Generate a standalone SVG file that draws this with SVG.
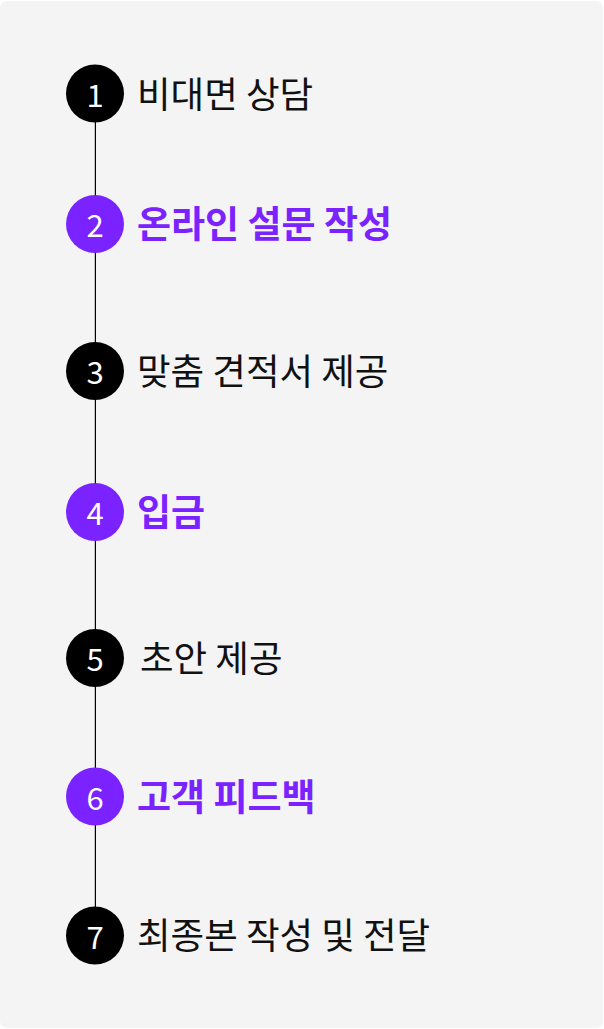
<svg xmlns="http://www.w3.org/2000/svg" width="604" height="1029" viewBox="0 0 604 1029">
<style>
.bg{fill:#f4f4f4}
.dot-k{fill:#000}
.dot-p{fill:#7a22ff}
.num{fill:#fff;font-family:"Noto Sans CJK KR","Noto Sans",sans-serif;font-size:31px;font-weight:400;text-anchor:middle;dominant-baseline:central}
.lab{font-family:"Noto Sans CJK KR","Noto Sans",sans-serif;dominant-baseline:central}
.lab-k{fill:#111;font-weight:400;font-size:36.5px}
.lab-p{fill:#7a22ff;font-weight:700;font-size:37px}
.conn{stroke:#000;stroke-width:1.2;fill:none}
</style>
<rect class="bg" x="0" y="1" width="603" height="1027" rx="7"/>
<g id="connectors">
<line class="conn" x1="95.4" y1="120" x2="95.4" y2="910"/>
</g>
<g id="step1"><circle class="dot-k" cx="95" cy="93.5" r="29"/><text class="num" x="95" y="93">1</text><text class="lab lab-k" x="137" y="92">비대면 상담</text></g>
<g id="step2"><circle class="dot-p" cx="95" cy="224" r="29"/><text class="num" x="95" y="223.5">2</text><text class="lab lab-p" x="137" y="222">온라인 설문 작성</text></g>
<g id="step3"><circle class="dot-k" cx="95" cy="371" r="29"/><text class="num" x="95" y="370.5">3</text><text class="lab lab-k" x="137" y="369">맞춤 견적서 제공</text></g>
<g id="step4"><circle class="dot-p" cx="95" cy="512" r="29"/><text class="num" x="95" y="511.5">4</text><text class="lab lab-p" x="137" y="510">입금</text></g>
<g id="step5"><circle class="dot-k" cx="95" cy="658" r="29"/><text class="num" x="95" y="657.5">5</text><text class="lab lab-k" x="140" y="656">초안 제공</text></g>
<g id="step6"><circle class="dot-p" cx="95" cy="796.5" r="29"/><text class="num" x="95" y="796">6</text><text class="lab lab-p" x="137" y="794.5">고객 피드백</text></g>
<g id="step7"><circle class="dot-k" cx="95" cy="935.5" r="29"/><text class="num" x="95" y="935">7</text><text class="lab lab-k" x="137" y="933.5">최종본 작성 및 전달</text></g>
</svg>
